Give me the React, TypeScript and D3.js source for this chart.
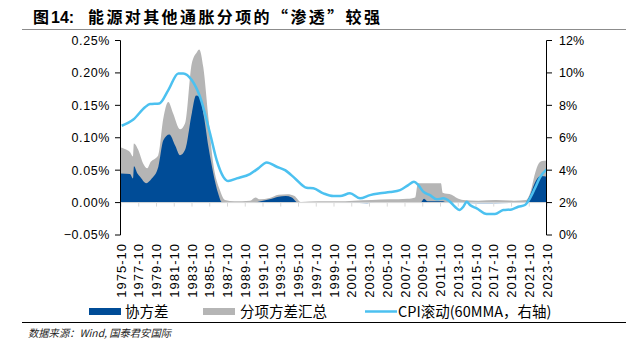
import React from "react";
import * as d3 from "d3";

const titleLead = "图";
const titleNum = "14:";
const titleText = "能源对其他通胀分项的“渗透”较强";
const footText = "数据来源：Wind, 国泰君安国际";
const legendLabels = ["协方差", "分项方差汇总", "CPI滚动(60MMA，右轴)"];

const xTickYears = [1975, 1977, 1979, 1981, 1983, 1985, 1987, 1989, 1991, 1993, 1995, 1997, 1999, 2001, 2003, 2005, 2007, 2009, 2011, 2013, 2015, 2017, 2019, 2021, 2023];
const leftTicks = [-0.05, 0, 0.05, 0.1, 0.15, 0.2, 0.25];
const rightTicks = [0, 2, 4, 6, 8, 10, 12];

// 分项方差汇总 (left axis, %)
const grayYears = [1975.75, 1976.1, 1976.76, 1977.1, 1977.2, 1977.7, 1978.26, 1978.71, 1979.1, 1979.5, 1979.95, 1980.52, 1981.08, 1981.64, 1982.4, 1982.96, 1983.72, 1984.3, 1984.57, 1985.02, 1985.59, 1986.15, 1986.9, 1987.47, 1988.5, 1990.3, 1990.9, 1991.4, 1992.5, 1993.5, 1994.5, 1995.3, 1996.0, 1998.0, 2000.0, 2002.0, 2004.0, 2006.0, 2008.0, 2008.9, 2009.2, 2011.8, 2012.0, 2013.0, 2013.6, 2014.3, 2016.0, 2018.0, 2020.0, 2021.4, 2021.9, 2022.4, 2022.8, 2023.2, 2023.75];
const grayValues = [0.085, 0.083, 0.078, 0.071, 0.091, 0.081, 0.06, 0.053, 0.063, 0.067, 0.073, 0.13, 0.155, 0.137, 0.113, 0.122, 0.214, 0.232, 0.236, 0.209, 0.132, 0.06, 0.019, 0.004, 0.002, 0.003, 0.008, 0.005, 0.007, 0.012, 0.013, 0.01, 0.001, 0.002, 0.002, 0.003, 0.004, 0.005, 0.006, 0.008, 0.03, 0.03, 0.015, 0.012, 0.007, 0.004, 0.003, 0.004, 0.003, 0.004, 0.017, 0.045, 0.06, 0.064, 0.065];

// 协方差 (left axis, %)
const blueYears = [1975.75, 1976.76, 1977.1, 1977.21, 1977.6, 1977.9, 1978.6, 1979.21, 1979.95, 1980.52, 1981.2, 1981.85, 1982.4, 1982.96, 1983.72, 1984.2, 1984.6, 1985.1, 1985.6, 1986.15, 1986.7, 1987.1, 1988.0, 1990.5, 1991.5, 1992.5, 1993.5, 1994.3, 1995.0, 1995.7, 2000.0, 2003.5, 2004.5, 2009.5, 2009.9, 2010.3, 2012.0, 2012.5, 2016.0, 2021.3, 2021.8, 2022.3, 2022.7, 2023.1, 2023.75];
const blueValues = [0.045, 0.044, 0.037, 0.056, 0.045, 0.04, 0.03, 0.037, 0.055, 0.096, 0.105, 0.088, 0.073, 0.081, 0.137, 0.165, 0.163, 0.132, 0.086, 0.045, 0.014, 0.001, 0.0, 0.0, 0.002, 0.005, 0.009, 0.01, 0.008, 0.0, 0.0, -0.001, 0.0, 0.0, 0.006, 0.002, 0.002, 0.0, -0.001, 0.0, 0.01, 0.028, 0.038, 0.041, 0.04];

// CPI滚动 60MMA (right axis, %)
const cpiYears = [1975.83, 1977.14, 1978.45, 1979.02, 1980.07, 1981.08, 1982.21, 1982.77, 1983.72, 1984.65, 1985.78, 1986.53, 1987.28, 1987.84, 1988.79, 1990.28, 1991.22, 1992.17, 1993.29, 1994.23, 1995.36, 1996.67, 1997.42, 1998.55, 1999.67, 2000.43, 2001.55, 2002.68, 2003.81, 2004.93, 2006.06, 2007.19, 2008.12, 2008.76, 2009.25, 2009.81, 2010.57, 2011.32, 2012.07, 2012.82, 2013.38, 2013.87, 2014.32, 2014.7, 2015.07, 2015.83, 2016.95, 2017.89, 2018.82, 2019.77, 2020.51, 2021.27, 2021.83, 2022.39, 2022.96, 2023.71];
const cpiValues = [6.74, 7.13, 7.88, 8.08, 8.12, 8.94, 9.97, 9.97, 9.56, 8.53, 6.27, 4.62, 3.59, 3.33, 3.49, 3.76, 4.11, 4.48, 4.21, 4.0, 3.49, 2.91, 2.88, 2.57, 2.4, 2.4, 2.57, 2.26, 2.46, 2.57, 2.65, 2.77, 3.08, 3.28, 3.08, 2.67, 2.46, 2.2, 2.26, 2.05, 1.74, 1.54, 1.74, 2.05, 1.85, 1.64, 1.29, 1.29, 1.54, 1.58, 1.74, 1.85, 2.26, 2.88, 3.56, 4.05];

const BLUE = "#004C97";
const GRAY = "#B5B5B5";
const LINE = "#4CC1F0";
const LATIN = "'Liberation Sans', Arial, sans-serif";
const CJK = "'Noto Sans CJK SC', sans-serif";

export default function App() {
  const W = 626, H = 345;
  const x0 = 121, x1 = 547;
  const yTop = 40.5, yBot = 235;
  const x = d3.scaleLinear().domain([1975.75, 2023.75]).range([x0, x1]);
  const yL = d3.scaleLinear().domain([-0.05, 0.25]).range([yBot, yTop]);
  const yR = d3.scaleLinear().domain([0, 12]).range([yBot, yTop]);

  const toPts = (xs: number[], vs: number[]) => xs.map((v, i) => [v, vs[i]] as [number, number]);
  const area = d3.area<[number, number]>()
    .x(d => x(d[0])).y0(yL(0)).y1(d => yL(d[1])).curve(d3.curveMonotoneX);
  const line = d3.line<[number, number]>()
    .x(d => x(d[0])).y(d => yR(d[1])).curve(d3.curveMonotoneX);

  const grayPath = area(toPts(grayYears, grayValues)) || "";
  const bluePath = area(toPts(blueYears, blueValues)) || "";
  const cpiPath = line(toPts(cpiYears, cpiValues)) || "";
  const zeroY = yL(0);

  return (
    <svg width={W} height={H} style={{ position: "absolute", left: 0, top: 0, background: "#fff" }}>
      <rect x={0} y={0} width={W} height={H} fill="#fff" />
      {/* title */}
      <text x={33} y={23} fontFamily={CJK} fontWeight={700} fontSize={16} fill="#000">{titleLead}</text>
      <text x={51} y={23} fontFamily={LATIN} fontWeight={700} fontSize={16} fill="#000">{titleNum}</text>
      <text x={88} y={23} fontFamily={CJK} fontWeight={700} fontSize={16} letterSpacing={2.4} fill="#000">{titleText}</text>
      <line x1={22} x2={626} y1={29.5} y2={29.5} stroke="#8c8c8c" strokeWidth={1.2} />

      {/* areas */}
      <path d={grayPath} fill={GRAY} />
      <path d={bluePath} fill={BLUE} />

      {/* zero axis */}
      <line x1={x0} x2={x1} y1={zeroY} y2={zeroY} stroke="#d9d9d9" strokeWidth={1} />
      {xTickYears.map(yr => (
        <line key={"zt" + yr} x1={x(yr + 0.75)} x2={x(yr + 0.75)} y1={zeroY} y2={zeroY + 4} stroke="#d9d9d9" strokeWidth={1} />
      ))}

      {/* CPI line */}
      <path d={cpiPath} fill="none" stroke={LINE} strokeWidth={2.5} strokeLinejoin="round" />

      {/* left axis */}
      <line x1={x0 - 0.5} x2={x0 - 0.5} y1={yTop} y2={yBot} stroke="#000" strokeWidth={1} />
      {leftTicks.map(t => (
        <g key={"l" + t}>
          <line x1={x0 - 6} x2={x0 - 0.5} y1={yL(t)} y2={yL(t)} stroke="#000" strokeWidth={1} />
          <text x={110} y={yL(t)} dy="0.35em" textAnchor="end" fontFamily={LATIN} fontSize={12.5} letterSpacing={0.6} fill="#000">
            {(t < 0 ? "−" : "") + Math.abs(t).toFixed(2) + "%"}
          </text>
        </g>
      ))}

      {/* right axis */}
      <line x1={x1 - 0.5} x2={x1 - 0.5} y1={yTop} y2={yBot} stroke="#000" strokeWidth={1} />
      {rightTicks.map(t => (
        <g key={"r" + t}>
          <line x1={x1 - 0.5} x2={x1 + 5} y1={yR(t)} y2={yR(t)} stroke="#000" strokeWidth={1} />
          <text x={559} y={yR(t)} dy="0.35em" textAnchor="start" fontFamily={LATIN} fontSize={12.5} fill="#000">
            {t + "%"}
          </text>
        </g>
      ))}

      {/* x labels */}
      {xTickYears.map(yr => (
        <text key={"xl" + yr} transform={`translate(${x(yr + 0.75)},243) rotate(-90)`} dy="0.35em" textAnchor="end"
          fontFamily={LATIN} fontSize={13} letterSpacing={1} fill="#000">
          {yr + "-10"}
        </text>
      ))}

      {/* legend */}
      <rect x={89} y={308} width={32} height={7} fill={BLUE} />
      <text x={125} y={312} dy="0.35em" fontFamily={CJK} fontSize={14.5} fill="#000">{legendLabels[0]}</text>
      <rect x={203} y={308} width={32} height={7} fill={GRAY} />
      <text x={240} y={312} dy="0.35em" fontFamily={CJK} fontSize={14.5} fill="#000">{legendLabels[1]}</text>
      <line x1={365} x2={397} y1={311.5} y2={311.5} stroke={LINE} strokeWidth={2.5} />
      <text x={398} y={312} dy="0.35em" fontFamily={CJK} fontSize={14.5} fill="#000">{legendLabels[2]}</text>

      {/* footer */}
      <line x1={22} x2={626} y1={322.5} y2={322.5} stroke="#000" strokeWidth={1} />
      <text x={28} y={337} fontFamily={CJK} fontStyle="italic" fontSize={10.3} fill="#222">{footText}</text>
    </svg>
  );
}
